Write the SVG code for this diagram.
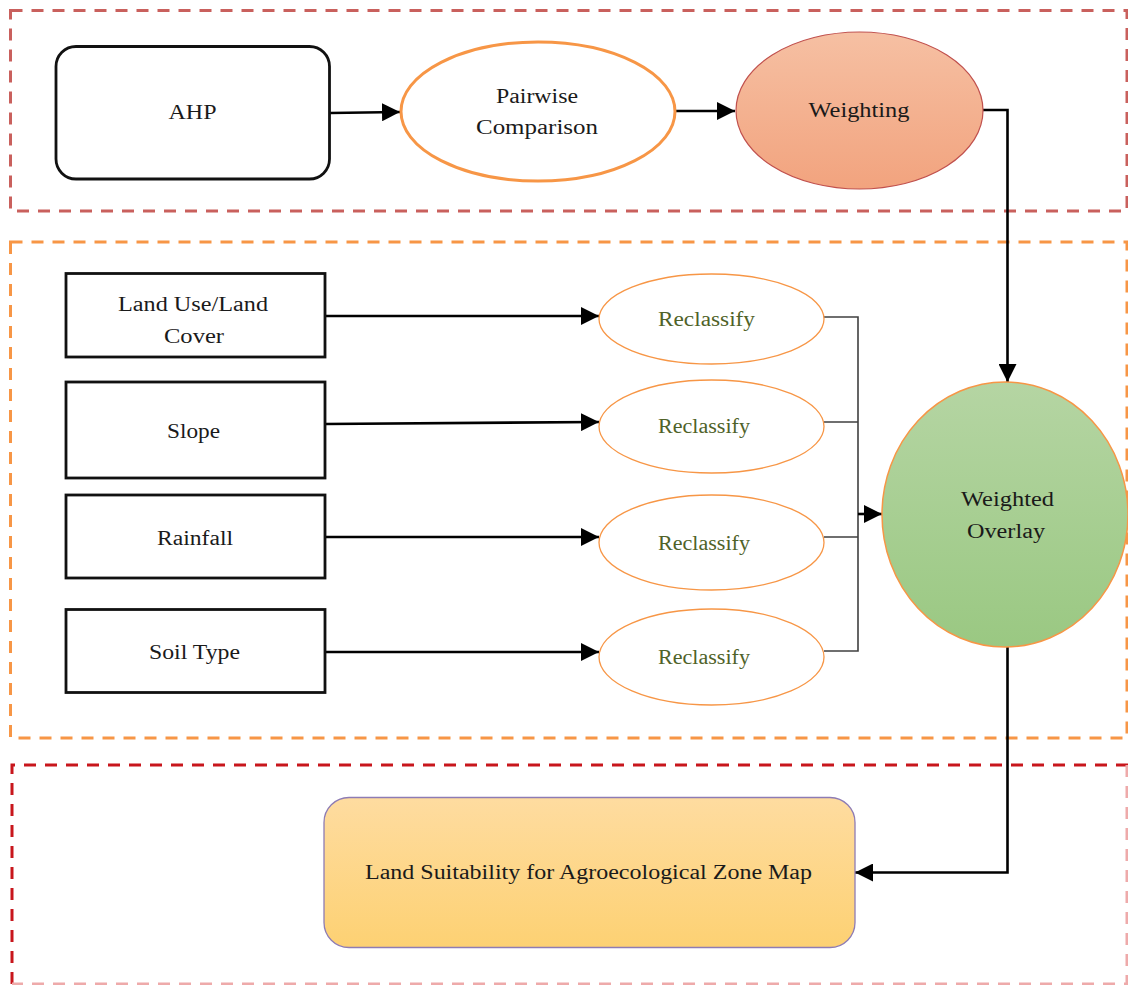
<svg xmlns="http://www.w3.org/2000/svg" width="1128" height="985" viewBox="0 0 1128 985">
<defs>
<style>
.frame{fill:none;stroke-width:3;stroke-dasharray:12 9}
.t{font-family:"Liberation Serif","DejaVu Serif",serif;font-size:20px;fill:#1a1a1a;text-anchor:middle}
.rc{fill:#4f6228}
.box{fill:#fff;stroke:#111;stroke-width:2.8}
.rell{fill:#fff;stroke:#f79646;stroke-width:1.3}
.con{fill:none;stroke:#000;stroke-width:2.6}
.bus{fill:none;stroke:#404040;stroke-width:1.6}
</style>
<marker id="ah" viewBox="0 0 18 18" markerWidth="18" markerHeight="18" refX="18" refY="9" orient="auto" markerUnits="userSpaceOnUse">
<path d="M0,0 L18,9 L0,18 Z" fill="#000"/>
</marker>
<linearGradient id="gW" x1="0" y1="0" x2="0" y2="1"><stop offset="0" stop-color="#f6c0a3"/><stop offset="1" stop-color="#f2a37e"/></linearGradient>
<linearGradient id="gO" x1="0" y1="0" x2="0" y2="1"><stop offset="0" stop-color="#b5d5a3"/><stop offset="1" stop-color="#9ac882"/></linearGradient>
<linearGradient id="gL" x1="0" y1="0" x2="0" y2="1"><stop offset="0" stop-color="#fedca0"/><stop offset="1" stop-color="#fdd173"/></linearGradient>
</defs>
<rect width="1128" height="985" fill="#fff"/>
<g id="frames">
<rect class="frame" x="10.5" y="10.5" width="1116.5" height="200.5" stroke="#c9605d"/>
<rect class="frame" x="10.5" y="242" width="1116.5" height="496" stroke="#f79646"/>
<path class="frame" d="M12,984 L12,765 L1128,765" stroke="#c8161c"/>
<path class="frame" d="M1127,765 L1127,984 L12,984" stroke="#eeaaaa" stroke-width="1.5"/>
</g>
<g id="connectors">
<path class="con" d="M330,113 L400,112" marker-end="url(#ah)"/>
<path class="con" d="M675,111 L735,111" marker-end="url(#ah)"/>
<path class="con" d="M983,110 L1007.5,110 L1007.5,382" marker-end="url(#ah)"/>
<path class="con" d="M325,316 L599,316" marker-end="url(#ah)"/>
<path class="con" d="M325,424 L599,422" marker-end="url(#ah)"/>
<path class="con" d="M325,537 L599,537" marker-end="url(#ah)"/>
<path class="con" d="M325,652 L599,652" marker-end="url(#ah)"/>
<path class="bus" d="M824,317 L858,317 L858,651 L824,651 M824,422 L858,422 M824,537 L858,537"/>
<path class="con" d="M858,514 L882,514" marker-end="url(#ah)"/>
<path class="con" d="M1007.5,647 L1007.5,872.5 L855,872.5" marker-end="url(#ah)"/>
</g>
<g id="ahp">
<rect class="box" x="56" y="46.5" width="273.5" height="132.5" rx="20"/>
<text class="t" x="192.5" y="119" textLength="48" lengthAdjust="spacingAndGlyphs">AHP</text>
</g>
<g id="pairwise">
<ellipse cx="538" cy="111.5" rx="137" ry="69.5" fill="#fff" stroke="#f79646" stroke-width="3"/>
<text class="t" x="537" y="103" textLength="82" lengthAdjust="spacingAndGlyphs">Pairwise</text>
<text class="t" x="537" y="134" textLength="122" lengthAdjust="spacingAndGlyphs">Comparison</text>
</g>
<g id="weighting">
<ellipse cx="859.5" cy="110.5" rx="123.5" ry="78.5" fill="url(#gW)" stroke="#c0504d" stroke-width="1.2"/>
<text class="t" x="859" y="117" textLength="101" lengthAdjust="spacingAndGlyphs">Weighting</text>
</g>
<g id="lulc">
<rect class="box" x="66" y="273.5" width="259" height="83.5"/>
<text class="t" x="193" y="311" textLength="150" lengthAdjust="spacingAndGlyphs">Land Use/Land</text>
<text class="t" x="194" y="343" textLength="60" lengthAdjust="spacingAndGlyphs">Cover</text>
</g>
<g id="slope">
<rect class="box" x="66" y="382" width="259" height="96"/>
<text class="t" x="193.5" y="438" textLength="53" lengthAdjust="spacingAndGlyphs">Slope</text>
</g>
<g id="rainfall">
<rect class="box" x="66" y="495" width="259" height="83"/>
<text class="t" x="195" y="545" textLength="76" lengthAdjust="spacingAndGlyphs">Rainfall</text>
</g>
<g id="soil">
<rect class="box" x="66" y="609.5" width="259" height="83"/>
<text class="t" x="194.5" y="659" textLength="91" lengthAdjust="spacingAndGlyphs">Soil Type</text>
</g>
<g id="reclass1">
<ellipse class="rell" cx="711.5" cy="319" rx="112.5" ry="45"/>
<text class="t rc" x="706.5" y="326" textLength="97" lengthAdjust="spacingAndGlyphs">Reclassify</text>
</g>
<g id="reclass2">
<ellipse class="rell" cx="711.5" cy="426.5" rx="112.5" ry="46.5"/>
<text class="t rc" x="704" y="433" textLength="92" lengthAdjust="spacingAndGlyphs">Reclassify</text>
</g>
<g id="reclass3">
<ellipse class="rell" cx="711.5" cy="542.5" rx="112.5" ry="47.5"/>
<text class="t rc" x="704" y="550" textLength="92" lengthAdjust="spacingAndGlyphs">Reclassify</text>
</g>
<g id="reclass4">
<ellipse class="rell" cx="711.5" cy="657" rx="112.5" ry="48"/>
<text class="t rc" x="704" y="664" textLength="92" lengthAdjust="spacingAndGlyphs">Reclassify</text>
</g>
<g id="overlay">
<ellipse cx="1005" cy="514.5" rx="123" ry="132.5" fill="url(#gO)" stroke="#f79646" stroke-width="1.5"/>
<text class="t" x="1007.5" y="506" textLength="93" lengthAdjust="spacingAndGlyphs">Weighted</text>
<text class="t" x="1006" y="538" textLength="78" lengthAdjust="spacingAndGlyphs">Overlay</text>
</g>
<g id="result">
<rect x="324" y="797.5" width="531" height="150" rx="25" fill="url(#gL)" stroke="#8e7cb4" stroke-width="1.3"/>
<text class="t" x="588.5" y="879" textLength="447" lengthAdjust="spacingAndGlyphs">Land Suitability for Agroecological Zone Map</text>
</g>
</svg>
